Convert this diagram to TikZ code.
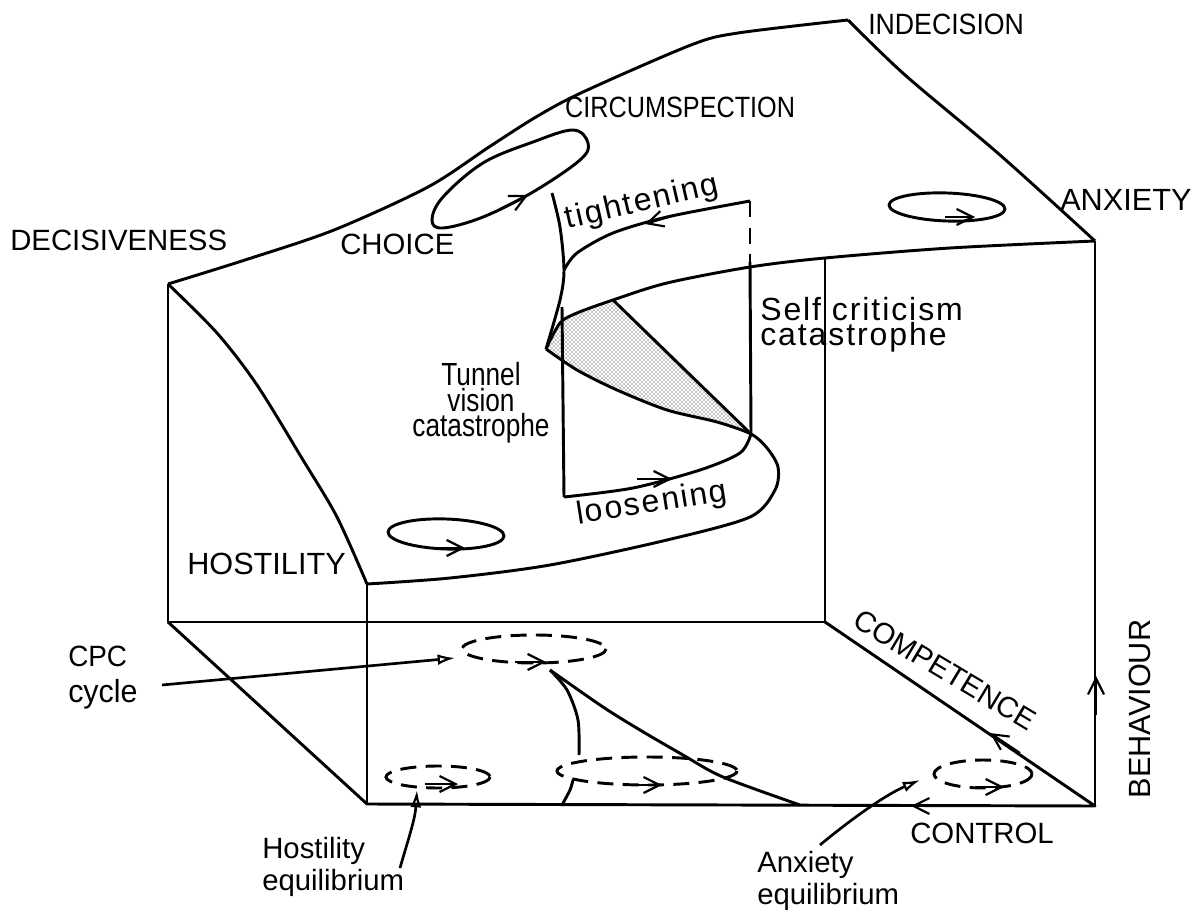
\documentclass[tikz,border=0pt]{standalone}
\usepackage{fontspec}
\setmainfont{Liberation Sans}
\usetikzlibrary{arrows.meta,patterns}
\begin{document}
\begin{tikzpicture}[
        x=0.75pt, y=-0.75pt,
        edge/.style={draw, line width=2.2pt, line join=round},
        cycle line/.style={draw, line width=2.2pt, dash pattern=on 12pt off 7pt},
        barb/.style={draw, line width=1.6pt, -{Straight Barb[length=12pt, width=12pt, line width=1.6pt]}},
        pointer/.style={draw, line width=2pt, -{Latex[open, length=13pt, width=8pt, line width=1.6pt]}},
        caps/.style={inner sep=0pt, font=\fontsize{22}{24}\selectfont},
        wide caps/.style={inner sep=0pt, font=\fontsize{23}{24}\selectfont},
        lower/.style={inner sep=0pt, align=center, font=\fontsize{24}{19}\selectfont},
        bigger/.style={inner sep=0pt, align=left, font=\fontsize{22}{19}\selectfont},
        spaced/.style={inner sep=0pt, align=left, font=\fontsize{24}{19}\selectfont\addfontfeature{LetterSpace=6}}
    ]
    \useasboundingbox (0,0) rectangle (1204,916);

    \coordinate (decisive) at (168,284);
    \coordinate (peak) at (848,20);
    \coordinate (anxious) at (1095,241);
    \coordinate (hostile) at (367,584);
    \coordinate (backleft) at (168,622);
    \coordinate (backright) at (825,622);
    \coordinate (frontleft) at (367,804);
    \coordinate (frontright) at (1095,806);
    \coordinate (backtop) at (825,258);
    \coordinate (cusp) at (546,349);
    \coordinate (tip) at (751,434);
    \coordinate (edgepoint) at (613,300);
    \coordinate (foldtop) at (552,193);
    \coordinate (foldmid) at (564,270);
    \coordinate (corner) at (750,201);
    \coordinate (dashend) at (750,262);
    \coordinate (midtop) at (562,307);
    \coordinate (midend) at (564,497);
    \coordinate (floorcusp) at (550,670);
    \coordinate (floorleft) at (579,755);
    \coordinate (floorend) at (800,805);
    \coordinate (floorlow) at (573,780);
    \coordinate (floorbase) at (562,805);
    \coordinate (cpcstart) at (162,685);

    \fill[pattern=crosshatch dots, pattern color=black] (edgepoint) -- (tip)
        -- plot[smooth, tension=.5] coordinates {(tip) (717,422) (667,410) (617,390) (577,370) (cusp)}
        -- plot[smooth, tension=.5] coordinates {(cusp) (560,323) (577,313) (edgepoint)} -- cycle;

    \draw[edge] plot[smooth, tension=.5] coordinates {(decisive) (245,260) (334,230) (428,187) (489,147) (536,117) (583,92) (691,45) (738,33) (peak)};
    \draw[edge] plot[smooth, tension=.5] coordinates {(peak) (905,75) (1000,155) (anxious)};
    \draw[edge] plot[smooth, tension=.5] coordinates {(anxious) (950,248) (backtop) (750,267) (667,283) (edgepoint) (577,313) (560,323) (cusp)};
    \draw[edge] plot[smooth, tension=.5] coordinates {(cusp) (577,370) (617,390) (667,410) (717,422) (tip) (767,448) (778,467) (775,490) (750,517) (667,540) (550,565) (450,578) (hostile)};
    \draw[edge] plot[smooth, tension=.5] coordinates {(decisive) (217,333) (257,385) (303,460) (337,517) (hostile)};
    \draw[edge] (decisive) -- (backleft) -- (backright) -- (backtop);
    \draw[edge] (backleft) -- (frontleft) -- (frontright) -- (backright);
    \draw[edge] (hostile) -- (frontleft);
    \draw[edge] (anxious) -- (frontright);

    \draw[edge] plot[smooth, tension=.5] coordinates {(foldtop) (560,227) (foldmid) (560,300) (cusp)};
    \draw[edge] plot[smooth, tension=.5] coordinates {(foldmid) (577,253) (613,233) (667,217) (corner)};
    \draw[edge, dash pattern=on 12pt off 8pt] (corner) -- (dashend);
    \draw[edge] (dashend) -- (tip);
    \draw[edge] (midtop) -- (midend);
    \draw[edge] plot[smooth, tension=.5] coordinates {(midend) (633,488) (700,470) (740,453) (tip)};
    \draw[edge] (edgepoint) -- (tip);

    \draw[edge] plot[smooth cycle, tension=.6] coordinates {(432,220) (443,197) (483,163) (533,142) (573,130) (588,143) (580,160) (533,192) (483,217) (443,228)};
    \draw[edge, rotate around={-2:(947,207)}] (947,207) ellipse [x radius=58, y radius=14];
    \draw[edge, rotate around={-2:(446,534)}] (446,534) ellipse [x radius=58, y radius=15];

    \draw[cycle line] (534,649) ellipse [x radius=72, y radius=14];
    \draw[cycle line] (438,777) ellipse [x radius=52, y radius=11];
    \draw[cycle line] (647,771) ellipse [x radius=90, y radius=14];
    \draw[cycle line] (983,774) ellipse [x radius=49, y radius=14];

    \draw[edge] plot[smooth, tension=.5] coordinates {(floorcusp) (567,690) (578,720) (floorleft)};
    \draw[edge] plot[smooth, tension=.5] coordinates {(floorcusp) (603,707) (640,730) (683,755) (723,777) (floorend)};
    \draw[edge] plot[smooth, tension=.5] coordinates {(floorlow) (570,790) (floorbase)};

    \draw[barb] (500,209) -- (528,195);
    \draw[barb] (672,216) -- (645,224);
    \draw[barb] (637,479) -- (672,479);
    \draw[barb] (945,217) -- (975,217);
    \draw[barb] (430,548) -- (465,548);
    \draw[barb] (515,662) -- (546,662);
    \draw[barb] (425,784) -- (458,784);
    \draw[barb] (630,785) -- (662,785);
    \draw[barb] (975,787) -- (1004,787);
    \draw[barb] (1096,715) -- (1096,676);
    \draw[barb] (1020,753) -- (990,733);
    \draw[barb] (940,806) -- (911,806);

    \node[caps, xscale=.91, anchor=west] (indecision) at (868,24) {INDECISION};
    \node[caps, xscale=.86, anchor=west] (circumspection) at (565,107) {CIRCUMSPECTION};
    \node[caps, anchor=west] (decisiveness) at (10,240) {DECISIVENESS};
    \node[caps, anchor=west] (choice) at (340,244) {CHOICE};
    \node[wide caps, anchor=west] (anxiety) at (1060,200) {ANXIETY};
    \node[wide caps, anchor=west] (hostility) at (187,564) {HOSTILITY};
    \node[caps, anchor=west] (control) at (910,833) {CONTROL};
    \node[caps, rotate=-31] (competence) at (945,670) {COMPETENCE};
    \node[wide caps, rotate=90] (behaviour) at (1140,709) {BEHAVIOUR};

    \node[spaced, rotate=13] (tightening) at (642,203) {tightening};
    \node[spaced, rotate=9] (loosening) at (652,504) {loosening};
    \node[spaced, anchor=west] (selfcrit) at (760,325) {Self criticism\\catastrophe};
    \node[lower, xscale=.82] (tunnel) at (481,403) {Tunnel\\vision\\catastrophe};
    \node[lower, xscale=.95, anchor=west, align=left] (cpc) at (68,678) {\fontsize{22}{19}\selectfont CPC\\[8pt]cycle};
    \node[bigger, anchor=west] (hostileq) at (262,867) {Hostility\\[3pt]equilibrium};
    \node[bigger, anchor=west] (anxeq) at (757,881) {Anxiety\\[3pt]equilibrium};

    \draw[pointer] (cpcstart) -- (455,658);
    \draw[pointer] (400,868) .. controls (408,840) and (415,820) .. (417,790);
    \draw[pointer] (820,845) .. controls (850,820) and (885,795) .. (920,780);
\end{tikzpicture}
\end{document}
